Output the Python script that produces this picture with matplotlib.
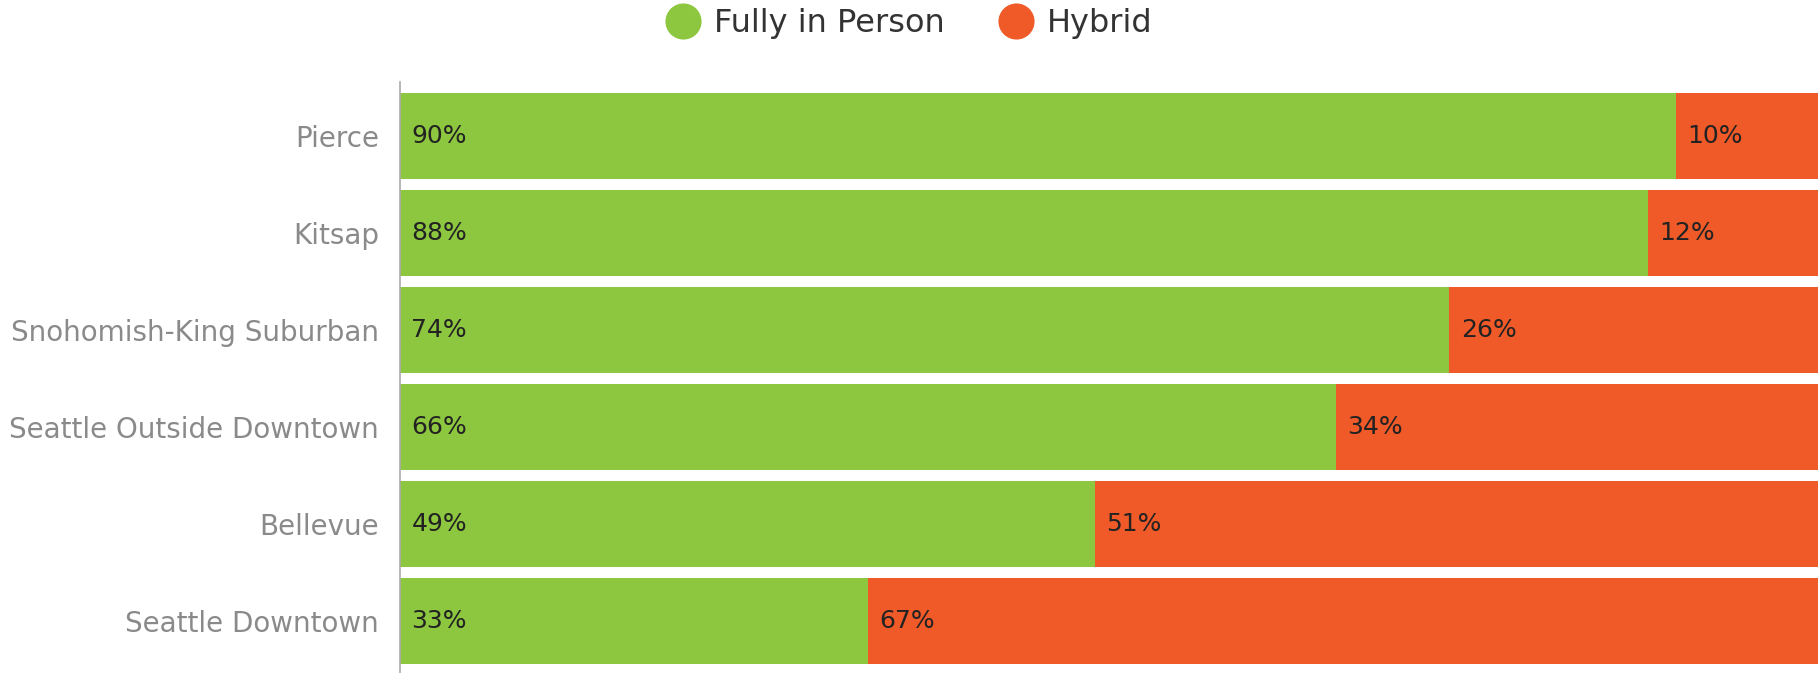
import numpy as np
import matplotlib
matplotlib.use('Agg')
import matplotlib.pyplot as plt
from matplotlib.lines import Line2D

regions = ['Pierce', 'Kitsap', 'Snohomish-King Suburban', 'Seattle Outside Downtown',
           'Bellevue', 'Seattle Downtown']
in_person = [90, 88, 74, 66, 49, 33]
hybrid = [10, 12, 26, 34, 51, 67]

green = '#8DC63F'
orange = '#F05A28'

plt.rcParams['font.family'] = ['DejaVu Sans']

fig = plt.figure(figsize=(18.18, 6.73), dpi=100)
ax = fig.add_axes([400 / 1818, 0, 1 - 400 / 1818, (673 - 82) / 673])

y = np.arange(len(regions))
h = 0.885
ax.barh(y, in_person, height=h, color=green, edgecolor='none')
ax.barh(y, hybrid, left=in_person, height=h, color=orange, edgecolor='none')

for i in range(len(regions)):
    ax.text(0.8, y[i], str(in_person[i]) + '%', va='center', ha='left',
            fontsize=18, color='#222222')
    ax.text(in_person[i] + 0.8, y[i], str(hybrid[i]) + '%', va='center', ha='left',
            fontsize=18, color='#222222')

ax.set_xlim(0, 100)
ax.set_ylim(5.54, -0.56)
ax.set_yticks(y)
ax.set_yticklabels(regions, fontsize=20, color='#8a8a8a', va='center_baseline')
ax.tick_params(axis='y', length=0, pad=15)
ax.set_xticks([])
for s in ['top', 'right', 'bottom']:
    ax.spines[s].set_visible(False)
ax.spines['left'].set_color('#aaaaaa')
ax.spines['left'].set_linewidth(1.2)

handles = [Line2D([], [], marker='o', linestyle='none', markersize=25, color=green),
           Line2D([], [], marker='o', linestyle='none', markersize=25, color=orange)]
fig.legend(handles, ['Fully in Person', 'Hybrid'], loc='center', bbox_to_anchor=(0.5, 0.965),
           ncol=2, frameon=False, fontsize=23, handlelength=1.1, handletextpad=0.4,
           columnspacing=1.7, labelcolor='#333333')

fig.savefig('out.png', dpi=100)
